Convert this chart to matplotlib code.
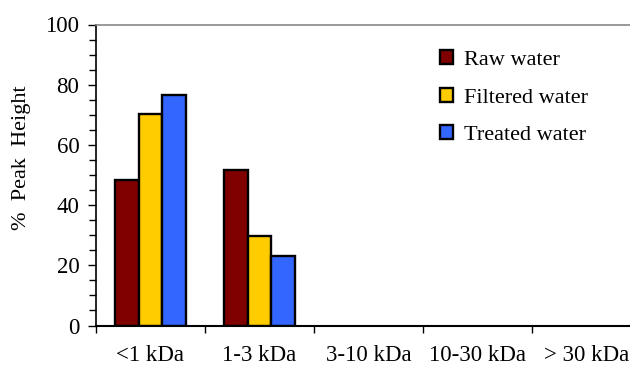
import matplotlib
matplotlib.use("Agg")
import matplotlib.pyplot as plt
import numpy as np
from matplotlib.ticker import MultipleLocator, FixedLocator

categories = ["<1 kDa", "1-3 kDa", "3-10 kDa", "10-30 kDa", "> 30 kDa"]
series_names = ["Raw water", "Filtered water", "Treated water"]
raw = [48.3, 51.7, 0, 0, 0]
filtered = [70.2, 29.6, 0, 0, 0]
treated = [76.7, 23.0, 0, 0, 0]
colors = ["#800000", "#FFCC00", "#3366FF"]

plt.rcParams['font.family'] = ['Liberation Serif', 'DejaVu Serif']

fig = plt.figure(figsize=(6.3, 3.65), dpi=100)
ax = fig.add_axes([96/630, (365-325.5)/365, 545/630, 301/365])

x = np.arange(len(categories))
w = 0.22
for i, (vals, name, c) in enumerate(zip([raw, filtered, treated], series_names, colors)):
    xs = x + (i - 1) * w
    bars = ax.bar(xs, vals, width=w, color=c, edgecolor='black', linewidth=1.7, label=name)
    for b, v in zip(bars, vals):
        if v == 0:
            b.set_visible(False)

ax.set_xlim(-0.5, len(categories) - 0.5)
ax.set_ylim(0, 100)
ax.yaxis.set_major_locator(MultipleLocator(20))
ax.yaxis.set_minor_locator(MultipleLocator(5))
ax.set_xticks(x)
ax.set_xticklabels(categories, fontsize=16.5)
ax.xaxis.set_minor_locator(FixedLocator(np.arange(-0.5, len(categories), 1.0)))
ax.tick_params(axis='x', which='major', length=0, pad=14)
ax.tick_params(axis='x', which='minor', length=5, width=1, direction='out')
ax.tick_params(axis='y', which='major', length=6, width=1, direction='out', labelsize=16.5, pad=6)
ax.tick_params(axis='y', which='minor', length=5, width=1, direction='out')

ax.spines['top'].set_color('#888888')
ax.spines['top'].set_linewidth(1.2)
ax.spines['right'].set_color('#888888')
ax.spines['left'].set_linewidth(1.2)
ax.spines['bottom'].set_linewidth(1.5)

fig.text(22/630, 1 - 158/365, "%  Peak  Height", fontsize=16, rotation=90, ha='center', va='center')

leg = ax.legend(loc='upper left', bbox_to_anchor=(440/630, 1 - 50/365), bbox_transform=fig.transFigure,
                frameon=False, fontsize=16, handlelength=0.6, handleheight=0.6,
                handletextpad=0.5, labelspacing=0.8, borderaxespad=0, borderpad=0)

fig.savefig("out.png", dpi=100)
